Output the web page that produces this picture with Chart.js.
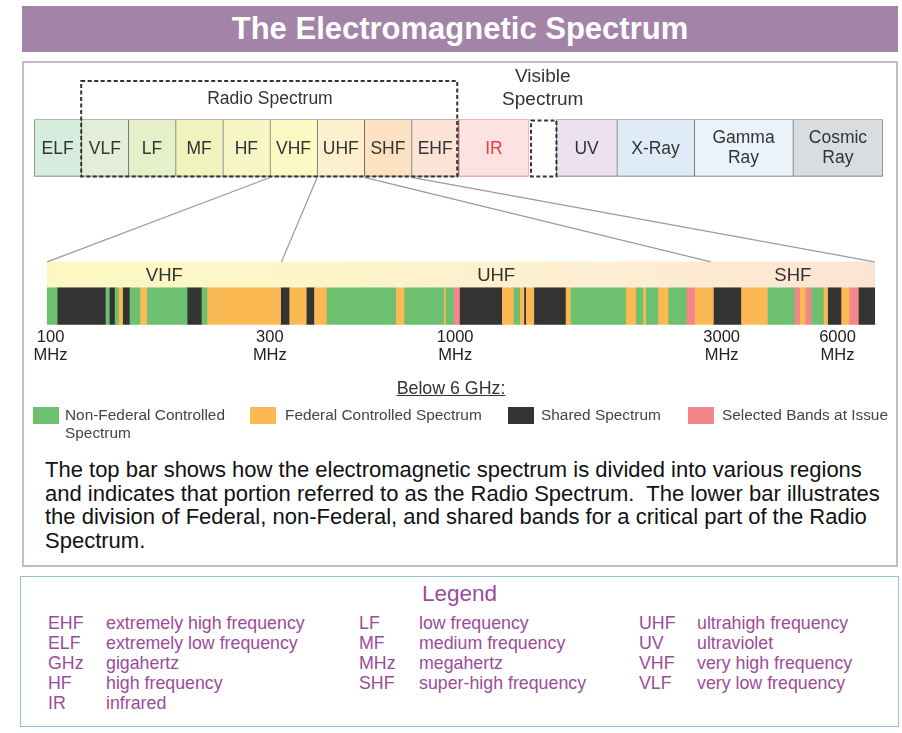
<!DOCTYPE html>
<html>
<head>
<meta charset="utf-8">
<title>The Electromagnetic Spectrum</title>
<script src="https://cdn.jsdelivr.net/npm/chart.js@4.4.0/dist/chart.umd.min.js"></script>
<style>
  body { margin: 0; background: #fff; font-family: "Liberation Sans", Arial, sans-serif; }
  #page { position: relative; width: 902px; height: 733px; overflow: hidden; }
  #title { position: absolute; left: 22px; top: 6px; width: 876px; height: 46px; background: #a383a7;
           color: #fff; font-weight: bold; font-size: 31px; line-height: 46px; text-align: center; }
  #frame { position: absolute; left: 22px; top: 61px; width: 876px; height: 506px; box-sizing: border-box;
           border: 2px solid #c8b6cc; }
  #spectrum { position: absolute; left: 0; top: 0; }
  #below { position: absolute; left: 0; width: 902px; top: 378px; text-align: center; font-size: 17.8px; color: #333; }
  #below span { text-decoration: underline; }
  .key { position: absolute; top: 407px; height: 17px; width: 26px; }
  .keytext { position: absolute; top: 406px; font-size: 15.4px; line-height: 18px; color: #444; }
  #note { position: absolute; left: 45px; top: 458px; font-size: 22px; line-height: 23.7px; color: #111; white-space: pre; }
  #legend { position: absolute; left: 20px; top: 576px; width: 879px; height: 151px; box-sizing: border-box;
            border: 1.5px solid #93c2d7; color: #9a4c9c; }
  #legend .head { position: absolute; left: 0; width: 100%; top: 4px; text-align: center; font-size: 22.5px; }
  #legend .col { position: absolute; top: 36px; font-size: 17.8px; line-height: 20px; }
  #legend .col div { white-space: nowrap; }
  #legend .col b { font-weight: normal; display: inline-block; }
</style>
</head>
<body>
<div id="page">
  <div id="title">The Electromagnetic Spectrum</div>
  <div id="frame"></div>
  <canvas id="spectrum" width="902" height="380"></canvas>

  <div id="below"><span>Below 6 GHz:</span></div>
  <div class="key" style="left:33px;background:#6cc070"></div>
  <div class="keytext" style="left:65px">Non-Federal Controlled<br>Spectrum</div>
  <div class="key" style="left:250px;background:#fbb954"></div>
  <div class="keytext" style="left:285px">Federal Controlled Spectrum</div>
  <div class="key" style="left:508px;background:#333333"></div>
  <div class="keytext" style="left:541px">Shared Spectrum</div>
  <div class="key" style="left:688px;background:#f3868b"></div>
  <div class="keytext" style="left:722px">Selected Bands at Issue</div>

  <div id="note">The top bar shows how the electromagnetic spectrum is divided into various regions
and indicates that portion referred to as the Radio Spectrum.  The lower bar illustrates
the division of Federal, non-Federal, and shared bands for a critical part of the Radio
Spectrum.</div>

  <div id="legend">
    <div class="head">Legend</div>
    <div class="col" style="left:27px">
      <div><b style="width:58px">EHF</b>extremely high frequency</div>
      <div><b style="width:58px">ELF</b>extremely low frequency</div>
      <div><b style="width:58px">GHz</b>gigahertz</div>
      <div><b style="width:58px">HF</b>high frequency</div>
      <div><b style="width:58px">IR</b>infrared</div>
    </div>
    <div class="col" style="left:338px">
      <div><b style="width:60px">LF</b>low frequency</div>
      <div><b style="width:60px">MF</b>medium frequency</div>
      <div><b style="width:60px">MHz</b>megahertz</div>
      <div><b style="width:60px">SHF</b>super-high frequency</div>
    </div>
    <div class="col" style="left:618px">
      <div><b style="width:58px">UHF</b>ultrahigh frequency</div>
      <div><b style="width:58px">UV</b>ultraviolet</div>
      <div><b style="width:58px">VHF</b>very high frequency</div>
      <div><b style="width:58px">VLF</b>very low frequency</div>
    </div>
  </div>
</div>

<script>
// Top bar: regions of the whole electromagnetic spectrum
const regionNames = ['ELF', 'VLF', 'LF', 'MF', 'HF', 'VHF', 'UHF', 'SHF', 'EHF', 'IR', 'Visible', 'UV', 'X-Ray', 'Gamma Ray', 'Cosmic Ray'];
const regionLabels = ['ELF', 'VLF', 'LF', 'MF', 'HF', 'VHF', 'UHF', 'SHF', 'EHF', 'IR', '', 'UV', 'X-Ray', ['Gamma', 'Ray'], ['Cosmic', 'Ray']];
// relative width of each region in the drawing (radio bands = 1)
const regionWidths = [1, 1, 1, 1, 1, 1, 1, 1, 1, 1.49, 0.58, 1.28, 1.64, 2.09, 1.91];

// Lower bar: zoom on VHF / UHF / SHF, positions along the bar (0 - 100)
const subBands = ['VHF', 'UHF', 'SHF'];
const subBandEdges = [0, 28.3, 80.2, 100];

const allocCategories = ['Non-Federal Controlled Spectrum', 'Federal Controlled Spectrum', 'Shared Spectrum', 'Selected Bands at Issue'];
const allocEdges = [0, 1.2, 7.1, 7.5, 8.2, 8.6, 9.1, 10.0, 11.2, 12.1, 16.9, 18.7, 19.3, 28.2, 29.3, 31.3, 32.3, 33.8,
  42.1, 43.2, 47.9, 48.2, 49.1, 49.9, 55.0, 56.4, 57.1, 57.6, 57.9, 58.8, 62.7, 63.3, 69.9, 71.2, 72.0, 72.4, 73.8,
  75.1, 77.2, 78.3, 80.5, 83.9, 87.1, 90.3, 91.0, 91.6, 92.4, 93.8, 94.3, 96.0, 96.9, 98.1, 100];
// N = non-federal, F = federal, S = shared, I = selected bands at issue
const allocTypes = ['N', 'S', 'N', 'S', 'N', 'F', 'S', 'N', 'F', 'N', 'S', 'N', 'F',
  'S', 'F', 'S', 'F', 'N', 'F', 'N', 'F', 'N', 'I',
  'S', 'F', 'N', 'F', 'S', 'F', 'S', 'F', 'N', 'F', 'N', 'F', 'N', 'F', 'N', 'I',
  'F', 'S', 'F', 'N', 'I', 'F', 'I', 'N', 'F', 'S', 'F', 'I', 'S'];
const allocKeys = ['N', 'F', 'S', 'I'];

const freqTickPos = [0.4, 26.9, 49.3, 81.5, 95.5];
const freqTickLabels = ['100', '300', '1000', '3000', '6000'];

// styles
const regionFill = ['#d6ecdd', '#e2eed8', '#e5f0c9', '#f1f3bd', '#f6f5c6', '#fbf9c4', '#fdf0cf', '#fde1c1', '#fde3d5',
  '#fde2e2', '#ffffff', '#ece1ee', '#dfebf6', '#ebf3fa', '#d9dde0'];
const regionStroke = regionNames.map(n => n === 'IR' ? '#ef6b6b' : '#6e6e6e');
const allocColors = ['#6cc070', '#fbb954', '#333333', '#f3868b'];

const ROW_SPECTRUM = 0, ROW_BANDS = 4, ROW_ALLOC = 5;
const FONT = '"Liberation Sans", Arial, sans-serif';

// start/end of each region
let acc = 0;
const regionSpans = regionWidths.map(w => { const s = [acc, acc + w]; acc += w; return s; });
const spectrumTotal = acc;

function headerGradient(ctx) {
  const chart = ctx.chart;
  const xs = chart.scales.xLow;
  if (!chart.chartArea || !xs) return '#fdf0cf';
  const x0 = xs.getPixelForValue(0), x1 = xs.getPixelForValue(100);
  if (!isFinite(x0) || !isFinite(x1)) return '#fdf0cf';
  const g = chart.ctx.createLinearGradient(x0, 0, x1, 0);
  g.addColorStop(0, '#fcf7c2');
  g.addColorStop(0.3, '#fdf5c8');
  g.addColorStop(0.7, '#fdeed2');
  g.addColorStop(1, '#fde3d3');
  return g;
}

function regionBorder(ctx) {
  const i = ctx.dataIndex;
  if (regionNames[i] === 'Visible') return 0;
  const closeRight = i === regionNames.length - 1 || regionNames[i] === 'IR' || regionNames[i] === 'EHF';
  return { top: 1, bottom: 1, left: 1, right: closeRight ? 1 : 0 };
}

const decorPlugin = {
  id: 'decor',
  afterDatasetsDraw(chart) {
    const c = chart.ctx;
    const xTop = chart.scales.xTop, xLow = chart.scales.xLow;
    const regions = chart.getDatasetMeta(1).data;
    const bands = chart.getDatasetMeta(0).data;
    const box = el => {
      const p = el.getProps(['x', 'y', 'base', 'height'], true);
      return { left: Math.min(p.x, p.base), right: Math.max(p.x, p.base),
               top: p.y - p.height / 2, bottom: p.y + p.height / 2, cx: (p.x + p.base) / 2, cy: p.y };
    };
    c.save();
    c.textAlign = 'center';
    c.textBaseline = 'middle';

    // region labels
    c.font = '17.5px ' + FONT;
    regionLabels.forEach((lab, i) => {
      const b = box(regions[i]);
      c.fillStyle = regionNames[i] === 'IR' ? '#ee3b3f' : '#333';
      if (Array.isArray(lab)) {
        c.fillText(lab[0], b.cx, b.cy - 10);
        c.fillText(lab[1], b.cx, b.cy + 10);
      } else {
        c.fillText(lab, b.cx, b.cy + 1);
      }
    });

    // zoom lines from the top bar to the lower bar
    const first = box(regions[0]);
    const head = box(bands[0]);
    const zoomFrom = [regionSpans[5][0], regionSpans[6][0], regionSpans[7][0], regionSpans[7][1]];
    c.strokeStyle = '#9c9c9c';
    c.lineWidth = 1.2;
    zoomFrom.forEach((v, i) => {
      c.beginPath();
      c.moveTo(xTop.getPixelForValue(v), first.bottom + 1);
      c.lineTo(xLow.getPixelForValue(subBandEdges[i]), head.top);
      c.stroke();
    });

    // sub-band names
    c.font = '18.5px ' + FONT;
    c.fillStyle = '#333';
    bands.forEach((el, i) => {
      const b = box(el);
      c.fillText(subBands[i], b.cx, b.cy + 1);
    });

    // dashed boxes
    c.setLineDash([4, 2.5]);
    c.lineWidth = 2;
    c.strokeStyle = '#333';
    const vlf = box(regions[1]), ehf = box(regions[8]);
    c.strokeRect(vlf.left, vlf.top - 38.5, ehf.right - 1.5 - vlf.left, vlf.bottom - vlf.top + 38.5);
    const vis = box(regions[10]);
    c.strokeRect(vis.left + 2, vis.top + 1, vis.right - vis.left - 2, vis.bottom - vis.top - 1);
    c.setLineDash([]);

    c.fillStyle = '#333';
    c.font = '17.5px ' + FONT;
    c.fillText('Radio Spectrum', (vlf.left + ehf.right) / 2, vlf.top - 20);
    c.font = '19px ' + FONT;
    c.fillText('Visible', vis.cx, vis.top - 43);
    c.fillText('Spectrum', vis.cx, vis.top - 20);
    c.restore();
  }
};

const allocDatasets = allocKeys.map((key, k) => ({
  label: allocCategories[k],
  data: allocTypes.map((t, i) => t === key ? { x: [allocEdges[i], allocEdges[i + 1]], y: ROW_ALLOC } : null)
                  .filter(Boolean),
  xAxisID: 'xLow',
  barThickness: 37,
  backgroundColor: allocColors[k],
  borderWidth: 0
}));

new Chart(document.getElementById('spectrum'), {
  type: 'bar',
  data: {
    datasets: [
      {
        label: 'Sub-bands',
        data: subBands.map((b, i) => ({ x: [subBandEdges[i], subBandEdges[i + 1]], y: ROW_BANDS })),
        xAxisID: 'xLow',
        barThickness: 25,
        backgroundColor: headerGradient,
        borderWidth: 0
      },
      {
        label: 'Spectrum',
        data: regionSpans.map(s => ({ x: s, y: ROW_SPECTRUM })),
        xAxisID: 'xTop',
        barThickness: 57,
        backgroundColor: regionFill,
        borderColor: regionStroke,
        borderWidth: regionBorder,
        borderSkipped: false
      },
      ...allocDatasets
    ]
  },
  options: {
    indexAxis: 'y',
    responsive: false,
    animation: false,
    grouped: false,
    layout: { padding: { left: 34, right: 19, top: 119.5, bottom: 3 } },
    plugins: { legend: { display: false }, tooltip: { enabled: false } },
    scales: {
      y: { type: 'linear', min: -0.9, max: 5.6, reverse: true, offset: false, display: false },
      xTop: { type: 'linear', axis: 'x', position: 'top', min: 0, max: spectrumTotal, display: false },
      xLow: {
        type: 'linear', axis: 'x', position: 'bottom', min: -1.6, max: 101,
        grid: { display: false, drawTicks: false },
        border: { display: false },
        afterFit: scale => { scale.height = 52; },
        afterBuildTicks: scale => { scale.ticks = freqTickPos.map(v => ({ value: v })); },
        ticks: {
          autoSkip: false, maxRotation: 0, padding: 4, color: '#222',
          font: { family: FONT, size: 16.5, lineHeight: 1.05 },
          callback: (v, i) => [freqTickLabels[i], 'MHz']
        }
      }
    }
  },
  plugins: [decorPlugin]
});
</script>
</body>
</html>
